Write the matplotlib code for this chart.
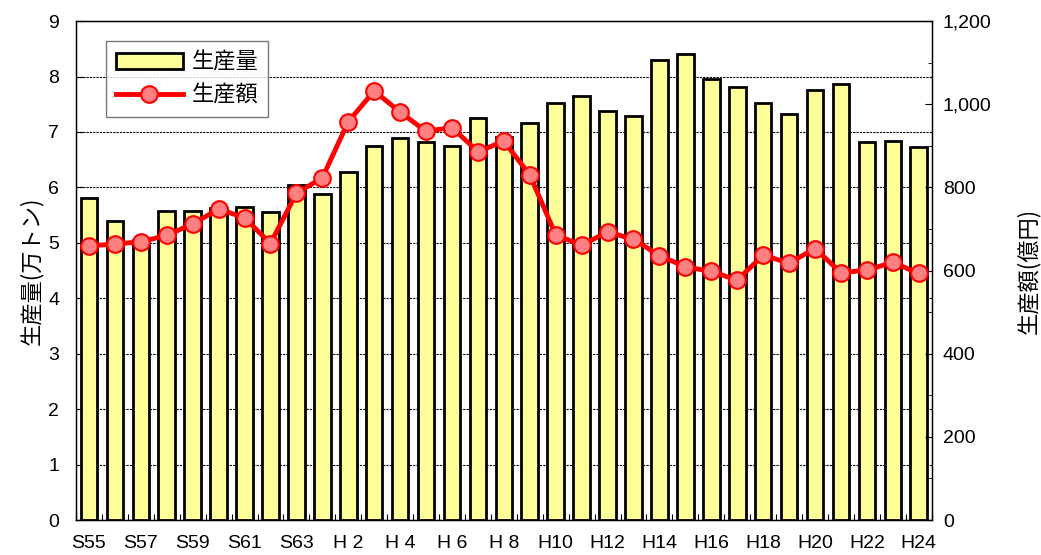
import matplotlib
matplotlib.use("Agg")
import matplotlib.pyplot as plt
from matplotlib.ticker import FuncFormatter, MultipleLocator, FixedLocator
import numpy as np

plt.rcParams['font.family'] = ['Noto Sans CJK JP', 'DejaVu Sans']

years = ["S55", "S56", "S57", "S58", "S59", "S60", "S61", "S62", "S63",
         "H 1", "H 2", "H 3", "H 4", "H 5", "H 6", "H 7", "H 8", "H 9",
         "H10", "H11", "H12", "H13", "H14", "H15", "H16", "H17", "H18",
         "H19", "H20", "H21", "H22", "H23", "H24"]
volume = [5.80, 5.40, 5.05, 5.57, 5.58, 5.62, 5.64, 5.55, 6.04,
          5.89, 6.28, 6.75, 6.89, 6.82, 6.75, 7.25, 6.91, 7.16,
          7.53, 7.64, 7.38, 7.29, 8.30, 8.41, 7.96, 7.81, 7.53,
          7.32, 7.75, 7.87, 6.81, 6.83, 6.73]
value = [659, 664, 669, 685, 712, 748, 727, 665, 786,
         823, 958, 1032, 981, 935, 944, 886, 911, 830,
         686, 661, 693, 675, 636, 609, 598, 577, 637,
         618, 653, 595, 601, 620, 593]

tickfont = {"family": ["Liberation Sans", "DejaVu Sans"], "size": 14}

fig = plt.figure(figsize=(10.41, 5.55), dpi=100)
ax = fig.add_axes([0.073, 0.063, 0.822, 0.899])
x = np.arange(len(years))

ax.bar(x, volume, width=0.64, color="#FFFF99", edgecolor="black",
       linewidth=2.0, label="生産量", zorder=2)
ax.set_xlim(-0.5, len(years) - 0.5)
ax.set_ylim(0, 9)
ax.yaxis.set_major_locator(MultipleLocator(1))
ax.set_axisbelow(True)
ax.grid(axis="y", color="black", linestyle=(0, (2, 1)), linewidth=0.8, zorder=0)
ax.set_xticks(x[::2])
ax.set_xticklabels(years[::2], fontdict=tickfont)
ax.xaxis.set_minor_locator(FixedLocator(np.arange(-0.5, len(years), 1)))
ax.tick_params(axis="x", which="major", length=0, pad=11)
ax.tick_params(axis="x", which="minor", direction="in", length=4, width=0.8)
ax.tick_params(axis="y", direction="in", length=5, pad=12)
for t in ax.get_yticklabels():
    t.set_fontfamily(tickfont["family"]); t.set_fontsize(tickfont["size"])
ax.set_ylabel("生産量(万トン)", fontsize=16, labelpad=4)
for s in ax.spines.values():
    s.set_linewidth(1.0)

ax2 = ax.twinx()
ax2.plot(x, value, color="#FF0000", linewidth=3.5, marker="o",
         markersize=12, markerfacecolor="#FF8080", markeredgecolor="#FF0000",
         markeredgewidth=1.5, label="生産額", zorder=3)
ax2.set_ylim(0, 1200)
ax2.yaxis.set_major_locator(MultipleLocator(200))
ax2.yaxis.set_minor_locator(MultipleLocator(100))
ax2.yaxis.set_major_formatter(FuncFormatter(lambda v, p: f"{int(v):,}"))
ax2.tick_params(axis="y", which="major", direction="in", length=5, pad=8)
ax2.tick_params(axis="y", which="minor", direction="in", length=3)
for t in ax2.get_yticklabels():
    t.set_fontfamily(tickfont["family"]); t.set_fontsize(tickfont["size"])
ax2.set_ylabel("生産額(億円)", fontsize=16, labelpad=18)

h1, l1 = ax.get_legend_handles_labels()
h2, l2 = ax2.get_legend_handles_labels()
leg = ax2.legend(h1 + h2, l1 + l2, loc="upper left",
                 bbox_to_anchor=(0.035, 0.96), borderaxespad=0,
                 prop={"size": 16}, frameon=True,
                 fancybox=False, edgecolor="#555555", handlelength=3.0,
                 borderpad=0.45, labelspacing=0.45, handletextpad=0.4)
leg.get_frame().set_linewidth(1.0)

fig.savefig("out.png", dpi=100)
